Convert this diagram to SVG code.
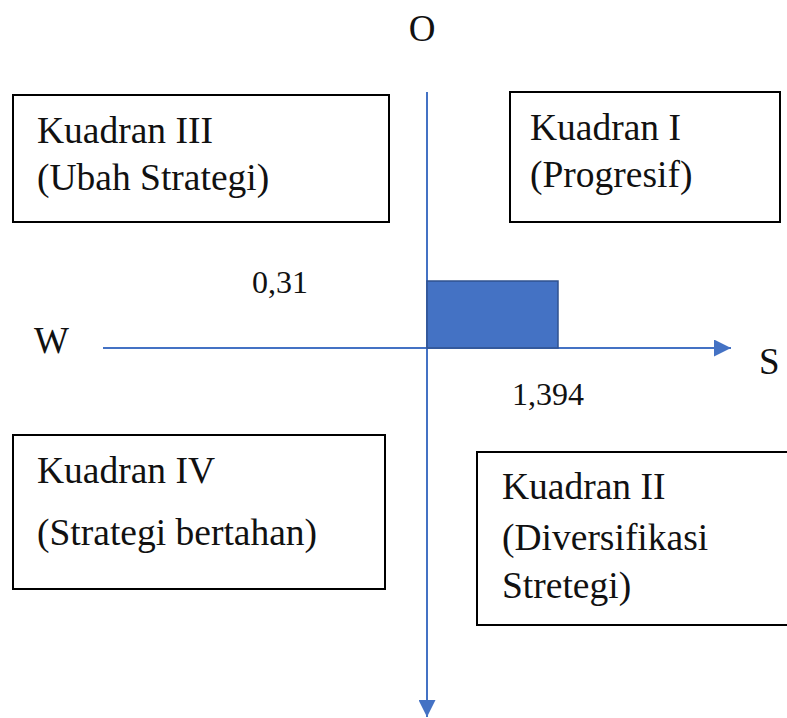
<svg xmlns="http://www.w3.org/2000/svg" width="787" height="718" viewBox="0 0 787 718">
<defs>
<style>
.box{fill:#fff;stroke:#000;stroke-width:2}
.t{font-family:"Liberation Serif","Times New Roman",serif;font-size:37.5px;fill:#111}
.l{font-family:"Liberation Serif","Times New Roman",serif;font-size:32px;fill:#111}
.c{font-family:"Liberation Serif","Times New Roman",serif;font-size:37px;fill:#111}
.ax{stroke:#4472C4;stroke-width:2;fill:none}
</style>
<marker id="ah" viewBox="0 0 10 10" refX="10" refY="5" markerWidth="8.5" markerHeight="8.5" markerUnits="strokeWidth" orient="auto">
<path d="M0,0 L10,5 L0,10 z" fill="#4472C4"/>
</marker>
</defs>
<rect width="787" height="718" fill="#fff"/>
<g id="connectors">
<line class="ax" x1="103" y1="348" x2="731" y2="348" marker-end="url(#ah)"/>
<line class="ax" x1="427" y1="92" x2="427" y2="717" marker-end="url(#ah)"/>
</g>
<g id="bar">
<rect x="427" y="281" width="131" height="67" fill="#4472C4" stroke="#2F528F" stroke-width="1.5"/>
</g>
<g id="q3">
<rect class="box" x="13" y="95" width="376" height="127"/>
<text class="t" x="37" y="143">Kuadran III</text>
<text class="t" x="37" y="190">(Ubah Strategi)</text>
</g>
<g id="q1">
<rect class="box" x="510" y="92" width="270" height="130"/>
<text class="t" x="530" y="140">Kuadran I</text>
<text class="t" x="530" y="187">(Progresif)</text>
</g>
<g id="q4">
<rect class="box" x="13" y="435" width="372" height="154"/>
<text class="t" x="37" y="483">Kuadran IV</text>
<text class="t" x="37" y="545">(Strategi bertahan)</text>
</g>
<g id="q2">
<rect class="box" x="477" y="452" width="320" height="173"/>
<text class="t" x="502" y="499">Kuadran II</text>
<text class="t" x="502" y="550">(Diversifikasi</text>
<text class="t" x="502" y="598">Stretegi)</text>
</g>
<g id="labels">
<text class="c" x="422" y="41" text-anchor="middle">O</text>
<text class="c" x="34" y="353">W</text>
<text class="c" x="759" y="374">S</text>
<text class="l" x="252" y="293">0,31</text>
<text class="l" x="512" y="405">1,394</text>
</g>
</svg>
